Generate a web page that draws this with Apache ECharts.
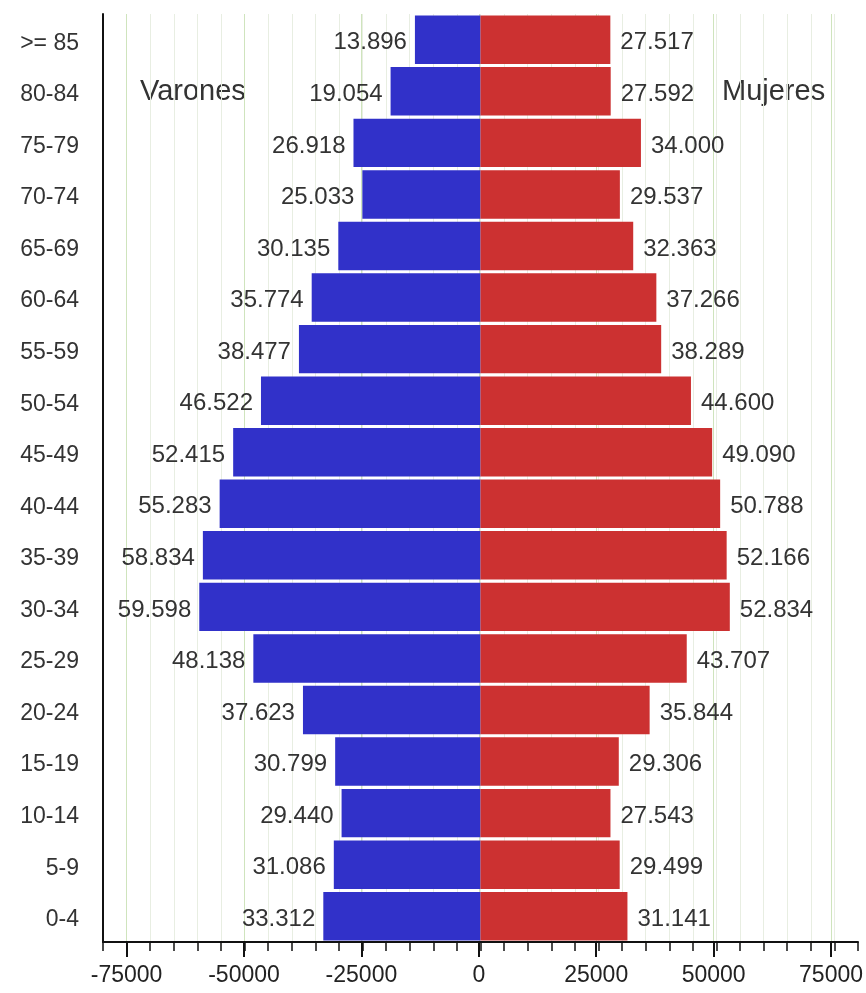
<!DOCTYPE html>
<html>
<head>
<meta charset="utf-8">
<script src="https://cdn.jsdelivr.net/npm/echarts@6/dist/echarts.min.js"></script>
<style>html,body{margin:0;padding:0;background:#fff}#c{width:866px;height:993px}</style>
</head>
<body>
<div id="c"></div>
<script>
const categories = ['0-4','5-9','10-14','15-19','20-24','25-29','30-34','35-39','40-44','45-49','50-54','55-59','60-64','65-69','70-74','75-79','80-84','>= 85'];
const varones = [33312,31086,29440,30799,37623,48138,59598,58834,55283,52415,46522,38477,35774,30135,25033,26918,19054,13896];
const mujeres = [31141,29499,27543,29306,35844,43707,52834,52166,50788,49090,44600,38289,37266,32363,29537,34000,27592,27517];
const tickLabels = [-75000,-50000,-25000,0,25000,50000,75000];

const FONT = "'Liberation Sans', Arial, sans-serif";
function fmt(v){
  const s = String(Math.abs(Math.round(v)));
  return s.replace(/\B(?=(\d{3})+(?!\d))/g, '.');
}
const chart = echarts.init(document.getElementById('c'), null, {renderer:'canvas'});
const L = 103, R = 8, W = 866 - L - R;
const off = 5000 * W / 160000;
chart.setOption({
  animation:false,
  backgroundColor:'#fff',
  textStyle:{fontFamily:FONT},
  grid:[
    {left:L, right:R, top:14, bottom:51, containLabel:false},
    {left:L+off, right:R+off, top:14, bottom:51, containLabel:false}
  ],
  xAxis:[
    {type:'value', gridIndex:0, min:-80000, max:80000, interval:5000,
     axisLine:{show:true, onZero:false, lineStyle:{color:'#111', width:2}},
     axisTick:{show:true, length:9, lineStyle:{color:'#111', width:1.5}},
     axisLabel:{show:false},
     splitLine:{show:true, showMinLine:false, showMaxLine:false, lineStyle:{color:'#e8eee2', width:1}}},
    {type:'value', gridIndex:1, min:tickLabels[0], max:tickLabels[tickLabels.length-1], interval:25000,
     axisLine:{show:false, onZero:false},
     axisTick:{show:true, length:15, lineStyle:{color:'#111', width:2}},
     axisLabel:{show:true, fontSize:23, color:'#222', margin:22, fontFamily:FONT,
       formatter:function(v){return tickLabels.indexOf(v)>=0 ? String(v) : '';}},
     splitLine:{show:true, lineStyle:{color:'#cfe4bd', width:1}}}
  ],
  yAxis:[
    {type:'category', gridIndex:0, data:categories,
     axisLine:{show:true, onZero:false, lineStyle:{color:'#111', width:2}},
     axisTick:{show:false},
     axisLabel:{fontSize:23, color:'#333', margin:24, fontFamily:FONT, verticalAlign:'top', lineHeight:7},
     splitLine:{show:false}},
    {type:'category', gridIndex:1, data:categories, show:false}
  ],
  series:[
    {name:'Varones', type:'bar', xAxisIndex:0, yAxisIndex:0, stack:'p',
     data:varones.map(v=>-v), barCategoryGap:'6%',
     itemStyle:{color:'#3131c9'},
     label:{show:true, position:'left', distance:8, fontSize:24, color:'#333', fontFamily:FONT,
       offset:[0,3], formatter:p=>fmt(p.value)}},
    {name:'Mujeres', type:'bar', xAxisIndex:0, yAxisIndex:0, stack:'p',
     data:mujeres, barCategoryGap:'6%',
     itemStyle:{color:'#cc3131'},
     label:{show:true, position:'right', distance:10, fontSize:24, color:'#333', fontFamily:FONT,
       offset:[0,3], formatter:p=>fmt(p.value)}}
  ],
  graphic:[
    {type:'text', left:140, top:77, style:{text:'Varones', font:'29px '+FONT, fill:'#333'}},
    {type:'text', left:722, top:77, style:{text:'Mujeres', font:'29px '+FONT, fill:'#333'}}
  ]
});
</script>
</body>
</html>
